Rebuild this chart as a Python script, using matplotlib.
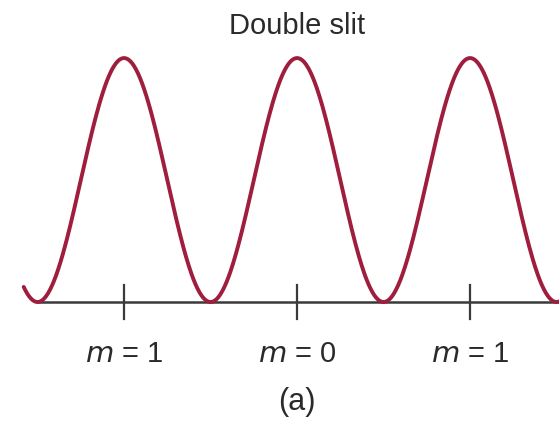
import numpy as np
import matplotlib.pyplot as plt

# -------------------------
# DATA
# -------------------------
# bright fringes sit at these orders along the screen
fringe_orders = [-1, 0, 1]
tick_labels = ["m = 1", "m = 0", "m = 1"]
peak_intensity = 1.0
screen_range = [-1.58, 1.52]   # extent of the drawn pattern, in fringe spacings

TITLE = "Double slit"
CAPTION = "(a)"

CURVE_COLOR = "#9f1d3d"
AXIS_COLOR = "#3a3a3a"
TEXT_COLOR = "#2a2a2a"

# -------------------------
# FIGURE
# -------------------------
plt.rcParams["font.family"] = ["Liberation Sans Narrow", "Liberation Sans", "DejaVu Sans"]

fig = plt.figure(figsize=(5.59, 4.24), dpi=100)
ax = fig.add_axes([0, 0, 1, 1])
ax.set_xlim(-1.717, 1.514)
ax.set_ylim(-0.5, 1.238)
ax.axis("off")

# two-slit intensity pattern: I = I0 cos^2(pi x)
x = np.linspace(screen_range[0], screen_range[1], 800)
intensity = peak_intensity * np.cos(np.pi * x) ** 2

# screen axis line and tick marks at each bright fringe
ax.plot([-1.5, screen_range[1]], [0, 0], color=AXIS_COLOR, lw=1.8, zorder=1)
for m in fringe_orders:
    ax.plot([m, m], [0.07, -0.07], color=AXIS_COLOR, lw=1.6, zorder=1)

ax.plot(x, intensity, color=CURVE_COLOR, lw=2.8, solid_capstyle="round", zorder=2)

# order labels with italic m
for m, lab in zip(fringe_orders, tick_labels):
    sym, rest = lab.split(" ", 1)
    ax.text(m, -0.215, r"$\mathit{" + sym + r"}$" + " " + rest, ha="center", va="center",
            fontsize=21, color=TEXT_COLOR)

ax.text(0, 1.13, TITLE, ha="center", va="center", fontsize=21, color=TEXT_COLOR)
ax.text(0, -0.41, CAPTION, ha="center", va="center", fontsize=22, color=TEXT_COLOR)

plt.savefig("out.png", dpi=100)
